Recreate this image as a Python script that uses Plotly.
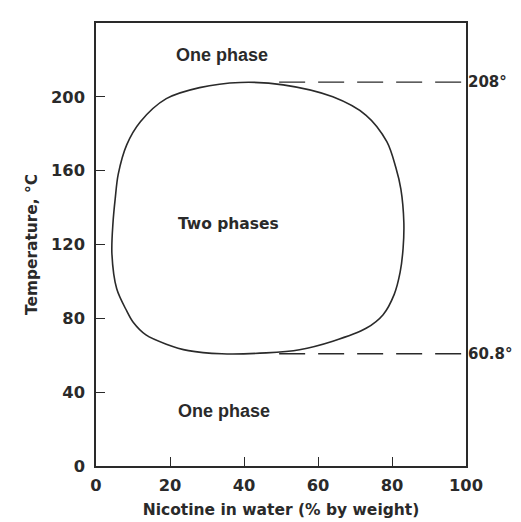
import plotly.graph_objects as go

# Coexistence curve (closed loop)
nicotine_pct = [4.3, 4.6, 5.2, 6.0, 8.3, 12.0, 19.0, 28.0, 39.0, 50.6, 64.0, 73.0,
                78.6, 81.0, 82.4, 83.2, 83.0, 82.2, 80.6, 77.6, 73.0, 64.0, 55.0, 46.0,
                34.0, 25.0, 19.0, 13.5, 10.0, 8.3, 5.6, 4.3]
temperature_c = [115, 132, 145, 158, 174, 186.5, 199, 205, 207.8, 206.5, 200, 190,
                 175.7, 162, 150, 132, 118, 105, 93, 82, 74.6, 67.6, 63, 61.3,
                 60.8, 62.5, 66, 71, 78, 84, 96, 115]

# Critical solution temperatures
upper_cst = 208
lower_cst = 60.8
dash_start_pct = 49.5

x_ticks = [0, 20, 40, 60, 80, 100]
y_ticks = [0, 40, 80, 120, 160, 200]

region_labels = ["One phase", "Two phases", "One phase"]
region_x = [34, 35.8, 34.7]
region_y = [222.7, 131, 30]

NARROW = "Liberation Sans, Arial, sans-serif"
WIDE = "DejaVu Sans, sans-serif"
INK = "#2a2a2a"

fig = go.Figure()
fig.add_trace(go.Scatter(x=nicotine_pct, y=temperature_c, mode="lines",
                         line=dict(color=INK, width=1.6, shape="spline", smoothing=0.9),
                         hoverinfo="skip", showlegend=False))
for t in [upper_cst, lower_cst]:
    fig.add_trace(go.Scatter(x=[dash_start_pct, 100], y=[t, t], mode="lines",
                             line=dict(color=INK, width=1.3, dash="26px,13px"),
                             hoverinfo="skip", showlegend=False))

for txt, xv, yv in zip(region_labels, region_x, region_y):
    two = txt.startswith("Two")
    fig.add_annotation(x=xv, y=yv, text=txt, showarrow=False,
                       font=dict(family=WIDE if two else NARROW,
                                 size=15.5 if two else 18, color=INK, weight="bold"))

for t, lab in [(upper_cst, "208°"), (lower_cst, "60.8°")]:
    fig.add_annotation(x=1, xref="paper", y=t, yref="y", text=lab, showarrow=False,
                       xanchor="left", xshift=1, borderpad=0,
                       font=dict(family=WIDE, size=15, color=INK, weight="bold"))

fig.update_layout(
    width=513, height=514,
    margin=dict(l=88, r=55, t=15, b=56),
    paper_bgcolor="white", plot_bgcolor="white",
    font=dict(family=WIDE, color=INK),
)
fig.update_xaxes(range=[0, 100], tickvals=x_ticks, ticks="inside", ticklen=9,
                 tickwidth=1.3, tickcolor=INK, ticklabelstandoff=4,
                 showline=True, linecolor=INK, linewidth=1.5, mirror=True,
                 showgrid=False, zeroline=False, automargin=False,
                 tickfont=dict(family=WIDE, size=16.3, color=INK, weight="bold"),
                 title=dict(text="Nicotine in water (% by weight)", standoff=10,
                            font=dict(family=WIDE, size=15.5, color=INK, weight="bold")))
fig.update_yaxes(range=[0, 240], tickvals=y_ticks, ticks="inside", ticklen=9,
                 tickwidth=1.3, tickcolor=INK, ticklabelstandoff=6,
                 showline=True, linecolor=INK, linewidth=1.5, mirror=True,
                 showgrid=False, zeroline=False, automargin=False,
                 tickfont=dict(family=WIDE, size=16.3, color=INK, weight="bold"),
                 title=dict(text="Temperature, °C", standoff=10,
                            font=dict(family=WIDE, size=15.4, color=INK, weight="bold")))

fig.write_html("out.html")
